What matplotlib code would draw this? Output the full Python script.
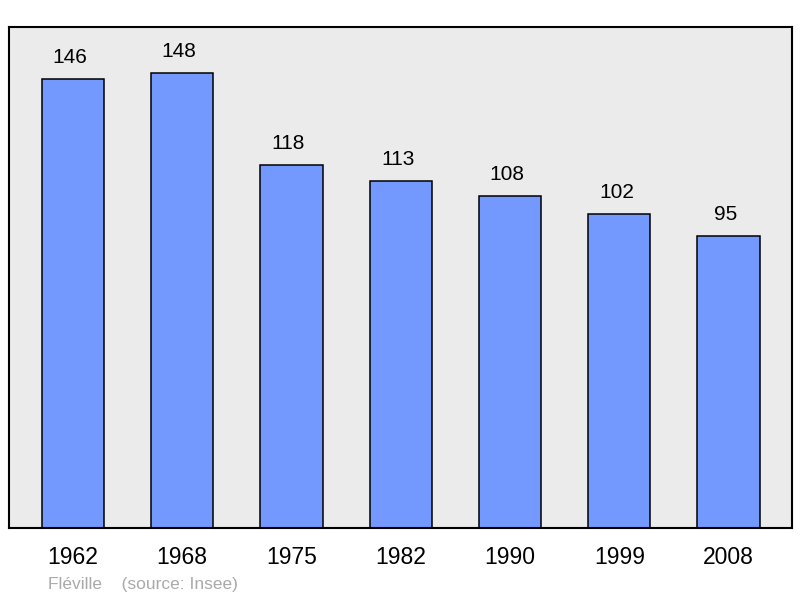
import matplotlib.pyplot as plt
from matplotlib.transforms import offset_copy

years = ["1962", "1968", "1975", "1982", "1990", "1999", "2008"]
population = [146, 148, 118, 113, 108, 102, 95]

plt.rcParams["font.family"] = ["Liberation Sans", "DejaVu Sans"]

fig = plt.figure(figsize=(8, 5.98), dpi=100)
ax = fig.add_axes([9 / 800, 70 / 598, 783 / 800, 501 / 598])
ax.set_facecolor("#ebebeb")

x = range(len(years))
ax.bar(x, population, width=0.57, color="#7399ff", edgecolor="black", linewidth=1.1)

# labels sit slightly left of the bar centre in the original
lbl_trans = offset_copy(ax.transData, fig=fig, x=-3, y=12, units="dots")
for i, v in zip(x, population):
    ax.text(i, v, str(v), ha="center", va="bottom", fontsize=15, transform=lbl_trans)

ax.set_xlim(-0.585, 6.58)
ax.set_ylim(0, 163)
ax.set_yticks([])
ax.set_xticks(list(x))
ax.set_xticklabels(years, fontsize=16.5)
ax.tick_params(axis="x", length=0, pad=13)
for s in ax.spines.values():
    s.set_linewidth(1.5)

fig.text(48 / 800, 1 - 584 / 598, "Fléville    (source: Insee)", color="#aaaaaa",
         fontsize=12.5, ha="left", va="center")

fig.savefig("out.png", dpi=100)
